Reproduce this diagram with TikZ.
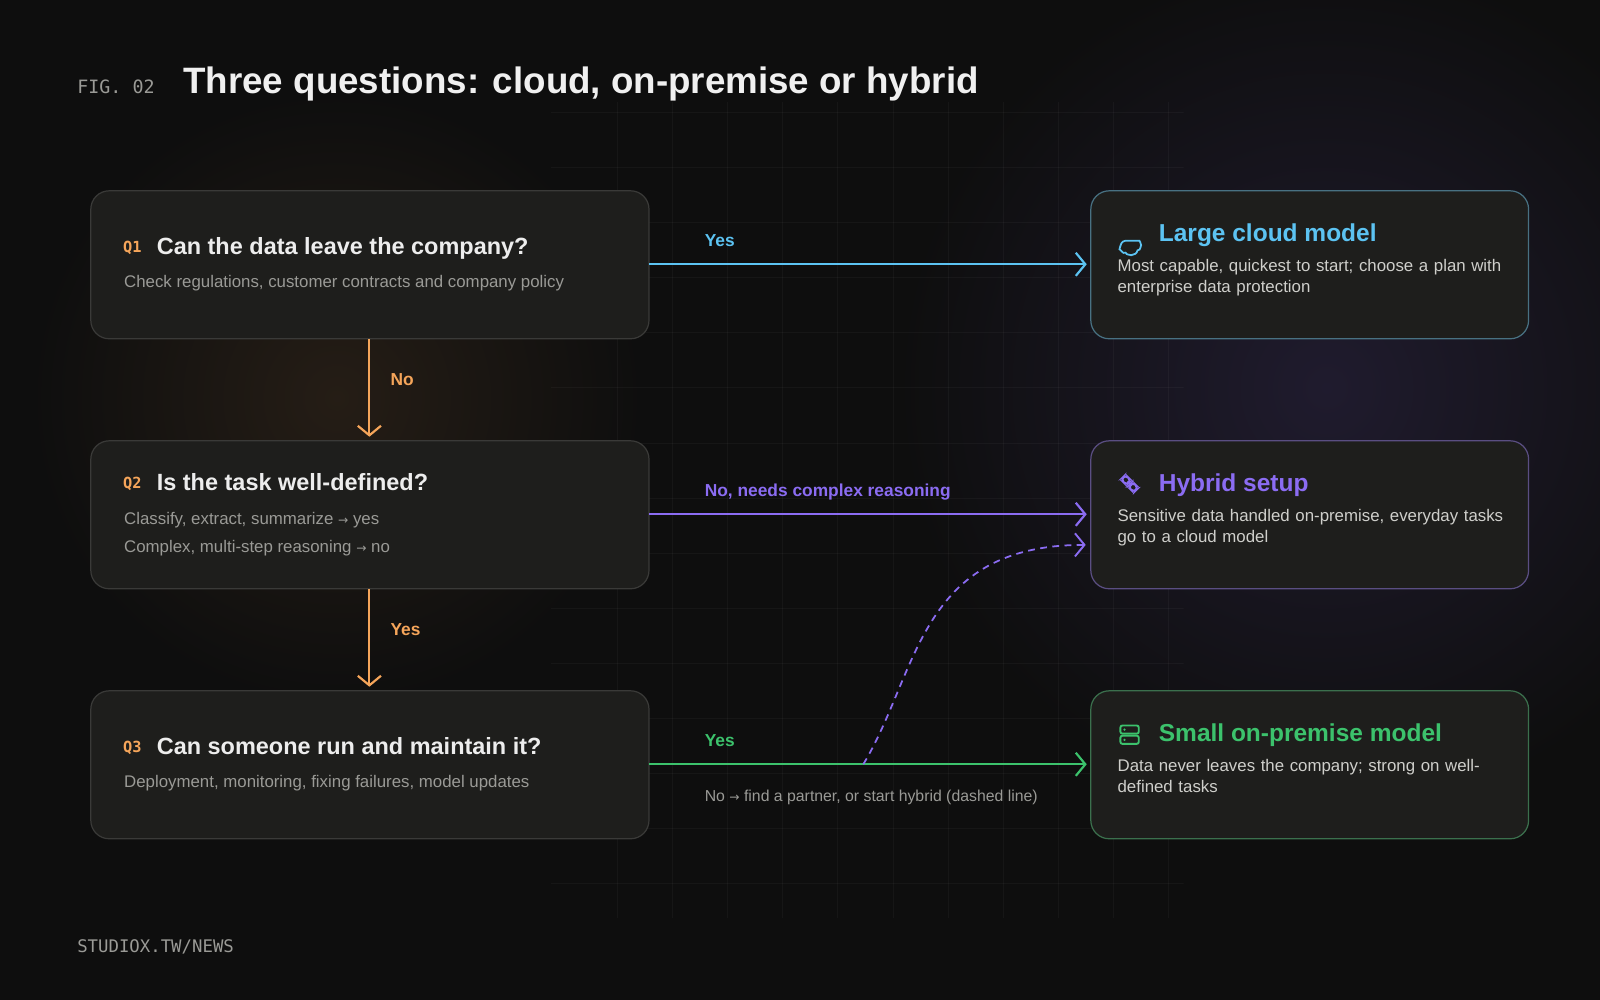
\documentclass[tikz,border=0pt]{standalone}
\usepackage{fontspec}
\setmainfont{Liberation Sans}
\newfontfamily\monof{DejaVu Sans Mono}
\newfontfamily\djf{DejaVu Sans}
\usetikzlibrary{arrows.meta}
\definecolor{bg}{HTML}{0E0E0E}
\definecolor{boxf}{HTML}{1E1E1C}
\definecolor{boxb}{HTML}{3A3A38}
\definecolor{ora}{HTML}{F5A55A}
\definecolor{blu}{HTML}{5CC3F2}
\definecolor{pur}{HTML}{8B6CF2}
\definecolor{grn}{HTML}{3CC26C}
\definecolor{sub}{HTML}{9A9A96}
\definecolor{rsub}{HTML}{CFCFCB}
\newcommand{\px}[1]{\fontsize{\fpeval{#1*0.75}}{\fpeval{#1*0.95}}\selectfont}
\begin{document}
\begin{tikzpicture}[x=0.75pt,y=-0.75pt,
  box/.style={rounded corners=13.5pt, fill=boxf, draw=boxb, line width=0.9pt},
  arr/.style={line width=1.6pt,-{Straight Barb[length=7pt,width=17pt,line width=1.6pt]}},
  lab/.style={anchor=base west, font=\px{17}\bfseries},
  qn/.style={anchor=base west, text=ora, font=\px{15}\monof\bfseries},
  qt/.style={anchor=base west, text=white!93!black, font=\px{23}\bfseries},
  st/.style={anchor=base west, text=sub, font=\px{16.5}, align=left},
  rt/.style={anchor=base west, font=\px{24}\bfseries},
  rs/.style={anchor=north west, text=rsub, font=\px{16.5}, align=left, text width=300pt, inner sep=0pt}]
\fill[bg] (0,0) rectangle (1568,980);
\useasboundingbox (0,0) rectangle (1568,980);
\shade[inner color=ora!10!bg, outer color=bg] (330,390) circle (300);
\shade[inner color=pur!14!bg, outer color=bg] (1300,380) circle (420);
\begin{scope}
\clip (540,100) rectangle (1160,900);
\foreach \x in {605,659,...,1160} \draw[white, opacity=0.035] (\x,100) -- (\x,900);
\foreach \y in {110,164,...,900} \draw[white, opacity=0.035] (540,\y) -- (1160,\y);
\end{scope}
% title
\node[anchor=base west, text=sub, font=\px{18}\monof] (fig) at (71,92) {FIG. 02};
\node[anchor=base west, text=white!94!black, font=\px{36}\bfseries] (title) at (175,92) {Three questions: cloud, on-premise or hybrid};
\node[anchor=base west, text=sub, font=\px{17}\monof] (foot) at (71,933) {STUDIOX.TW/NEWS};
% left boxes
\draw[box] (89,187) rectangle (636,332); \coordinate (q1) at (362,259);
\draw[box] (89,432) rectangle (636,577); \coordinate (q2) at (362,504);
\draw[box] (89,677) rectangle (636,822); \coordinate (q3) at (362,749);
\node[qn] (n1) at (116,247) {Q1}; \node[qt] (t1) at (149,249) {Can the data leave the company?};
\node[st] (s1) at (117,282) {Check regulations, customer contracts and company policy};
\node[qn] (n2) at (116,479) {Q2}; \node[qt] (t2) at (149,481) {Is the task well-defined?};
\node[st] (s2) at (117,514) {Classify, extract, summarize {\djf\px{12}→} yes};
\node[st] (s2b) at (117,541) {Complex, multi-step reasoning {\djf\px{12}→} no};
\node[qn] (n3) at (116,737) {Q3}; \node[qt] (t3) at (149,739) {Can someone run and maintain it?};
\node[st] (s3) at (117,772) {Deployment, monitoring, fixing failures, model updates};
% right boxes
\draw[box, draw=blu!40!boxb] (1069,187) rectangle (1498,332);
\draw[box, draw=pur!40!boxb] (1069,432) rectangle (1498,577);
\draw[box, draw=grn!40!boxb] (1069,677) rectangle (1498,822);
\node[rt, text=blu] (r1) at (1131,237) {Large cloud model};
\node[rs] (d1) at (1095,254) {Most capable, quickest to start; choose a plan with enterprise data protection};
\node[rt, text=pur] (r2) at (1131,482) {Hybrid setup};
\node[rs] (d2) at (1095,499) {Sensitive data handled on-premise, everyday tasks go to a cloud model};
\node[rt, text=grn] (r3) at (1131,727) {Small on-premise model};
\node[rs] (d3) at (1095,744) {Data never leaves the company; strong on well-defined tasks};
% icons
\draw[blu, line width=1.3pt, rounded corners=2pt] (1100,236) -- (1114,236) arc (-90:90:4.3) arc (0:160:5.5) arc (60:190:4) -- cycle;
\begin{scope}[pur, line width=1.4pt, shift={(1107,474)}, rotate=-45]
\draw[rounded corners=3.2pt] (-9,-3.3) rectangle (-1,3.3);
\draw[rounded corners=3.2pt] (1,-3.3) rectangle (9,3.3);
\draw (-3,0) -- (3,0);
\end{scope}
\begin{scope}[grn, line width=1.4pt]
\draw[rounded corners=1.5pt] (1098,711) rectangle (1116,719);
\draw[rounded corners=1.5pt] (1098,721) rectangle (1116,729);
\fill (1102,715) circle (1.2); \fill (1102,725) circle (1.2);
\end{scope}
% connectors
\coordinate (a1) at (636,259); \coordinate (b1) at (1065,259);
\coordinate (a2) at (636,504); \coordinate (b2) at (1065,504);
\coordinate (a3) at (636,749); \coordinate (b3) at (1065,749);
\coordinate (d1s) at (362,332); \coordinate (d1e) at (362,428);
\coordinate (d2s) at (362,577); \coordinate (d2e) at (362,673);
\coordinate (cs) at (846,749); \coordinate (ce) at (1064,534);
\draw[arr, blu] (a1) -- (b1);
\draw[arr, pur] (a2) -- (b2);
\draw[arr, grn] (a3) -- (b3);
\draw[arr, ora] (d1s) -- (d1e);
\draw[arr, ora] (d2s) -- (d2e);
\draw[pur, line width=1.3pt, dash pattern=on 5pt off 4pt, -{Straight Barb[length=7pt,width=17pt,line width=1.4pt]}] (cs) .. controls (900,660) and (900,534) .. (ce);
\node[lab, text=blu] (l1) at (686,242) {Yes};
\node[lab, text=pur] (l2) at (686,487) {No, needs complex reasoning};
\node[lab, text=grn] (l3) at (686,732) {Yes};
\node[lab, text=ora] (l4) at (378,378) {No};
\node[lab, text=ora] (l5) at (378,623) {Yes};
\node[anchor=base west, text=sub, font=\px{15.5}] (note) at (686,785) {No {\djf\px{12}→} find a partner, or start hybrid (dashed line)};
\end{tikzpicture}
\end{document}
